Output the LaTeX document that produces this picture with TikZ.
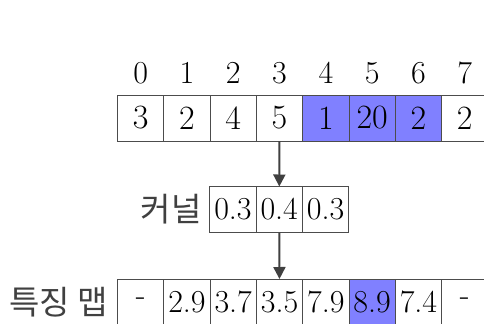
\documentclass[tikz,border=0pt]{standalone}
\usepackage{fontspec}
\newfontfamily\krfont{Noto Sans CJK KR}
\usetikzlibrary{arrows.meta,positioning}

\begin{document}
\begin{tikzpicture}[
x=0.5pt, y=-0.5pt,
node distance=0pt,
cell/.style={draw=black!70, minimum width=23.15pt, minimum height=23pt, inner sep=0pt, outer sep=0pt, font=\rmfamily\fontsize{17}{17}\selectfont},
hot/.style={cell, fill=blue!50},
small/.style={font=\rmfamily\fontsize{16}{16}\selectfont},
idx/.style={inner sep=0pt, font=\rmfamily\fontsize{16}{16}\selectfont},
tag/.style={inner sep=0pt, text=black!75, font=\krfont\fontsize{16.5}{16.5}\selectfont},
arrow/.style={-{Triangle[length=6pt, width=6pt]}, line width=1pt, draw=black!75}
]
\useasboundingbox (0,0) rectangle (484,323);
\clip (0,0) rectangle (484,323);

\node[cell] (t0) at (140.65,118) {3};
\node[cell, right=of t0] (t1) {2};
\node[cell, right=of t1] (t2) {4};
\node[cell, right=of t2] (t3) {5};
\node[hot, right=of t3] (t4) {1};
\node[hot, right=of t4] (t5) {20};
\node[hot, right=of t5] (t6) {2};
\node[cell, right=of t6] (t7) {2};

\node[idx, above=5.5pt of t0] (i0) {0};
\node[idx, above=5.5pt of t1] (i1) {1};
\node[idx, above=5.5pt of t2] (i2) {2};
\node[idx, above=5.5pt of t3] (i3) {3};
\node[idx, above=5.5pt of t4] (i4) {4};
\node[idx, above=5.5pt of t5] (i5) {5};
\node[idx, above=5.5pt of t6] (i6) {6};
\node[idx, above=5.5pt of t7] (i7) {7};

\node[cell, small] (k0) at (232.95,209.5) {0.3};
\node[cell, small, right=of k0] (k1) {0.4};
\node[cell, small, right=of k1] (k2) {0.3};
\node[tag, left=4pt of k0] (kern) {커널};

\node[cell, small] (f0) at (140.65,302) {-};
\node[cell, small, right=of f0] (f1) {2.9};
\node[cell, small, right=of f1] (f2) {3.7};
\node[cell, small, right=of f2] (f3) {3.5};
\node[cell, small, right=of f3] (f4) {7.9};
\node[hot, small, right=of f4] (f5) {8.9};
\node[cell, small, right=of f5] (f6) {7.4};
\node[cell, small, right=of f6] (f7) {-};
\node[tag, left=4.5pt of f0] (fmap) {특징 맵};

\draw[arrow] (t3) -- (k1);
\draw[arrow] (k1) -- (f3);
\end{tikzpicture}
\end{document}
